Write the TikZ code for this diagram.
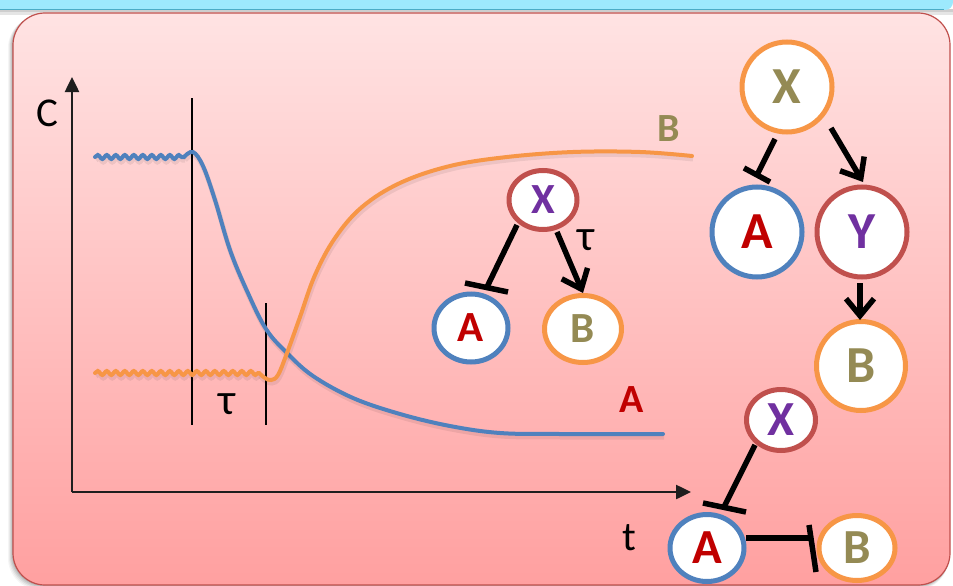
\documentclass[tikz,border=0pt]{standalone}
\usepackage{fontspec}
\setmainfont{Carlito}
\usetikzlibrary{arrows.meta,shapes.geometric,decorations.pathmorphing,calc}
\definecolor{cBlue}{HTML}{4F81BD}
\definecolor{cOrange}{HTML}{F79646}
\definecolor{cRed}{HTML}{C0504D}
\definecolor{cPurple}{HTML}{7030A0}
\definecolor{cDarkRed}{HTML}{C00000}
\definecolor{cOlive}{HTML}{948A54}
\definecolor{cCyan}{HTML}{9DE9FD}
\definecolor{cCyanDark}{HTML}{4BACC6}
\definecolor{boxTop}{HTML}{FFE3E3}
\definecolor{boxBot}{HTML}{FFA0A0}
\definecolor{axisCol}{HTML}{1E1E1E}
\begin{document}
\begin{tikzpicture}[x=1pt,y=-1pt,
  gnode/.style={ellipse, draw, line width=5pt, fill=white, inner sep=0pt},
  fmid/.style={font=\fontsize{43}{45}\selectfont\bfseries},
  fright/.style={font=\fontsize{52}{54}\selectfont\bfseries},
  fbot/.style={font=\fontsize{49}{51}\selectfont\bfseries},
  edge/.style={line width=5.5pt, black},
  act/.style={edge, -{Straight Barb[length=17pt,width=28pt,line width=5.5pt]}},
  curveshadow/.style={preaction={draw=black, opacity=0.07, line width=5pt, transform canvas={xshift=1pt,yshift=-3pt}}},
  blueline/.style={cBlue, line width=4pt, line cap=round, curveshadow},
  orangeline/.style={cOrange, line width=4pt, line cap=round, curveshadow},
  wavy/.style={decorate, decoration={snake, segment length=9pt, amplitude=2pt}},
  marker/.style={line width=2pt, black},
  axisline/.style={line width=2.5pt, axisCol, -{Triangle[length=15pt,width=14pt]}},
  lbl/.style={font=\fontsize{41}{44}\selectfont, inner sep=0pt},
  curvelbl/.style={font=\fontsize{40}{42}\selectfont\bfseries, inner sep=0pt}
]
\useasboundingbox (0,0) rectangle (953,586);
% top cyan bar
\fill[black, opacity=0.10] (0,9) rectangle (953,15);
\fill[black, opacity=0.10] (0,9) rectangle (953,12);
\fill[cCyan, rounded corners=8pt] (-10,-10) rectangle (953,10);
\draw[cCyanDark, line width=1.5pt] (0,9.5) -- (944,9.5);
% box shadow
\foreach \o/\a in {1/0.10,2/0.08,3/0.07,4/0.05,5/0.04}{
  \fill[black, opacity=\a, rounded corners=32pt] (13-\o,13+\o*0.6) rectangle (950-\o*0.3,585+\o);
}
% main box
\shadedraw[top color=boxTop, bottom color=boxBot, draw=cRed, line width=1.2pt, rounded corners=32pt] (13,13) rectangle (950,585);

% axes
\coordinate (O) at (72,492);
\coordinate (Ytop) at (72,77);
\coordinate (Xend) at (691,492);
\draw[axisline] (O) -- (Ytop);
\draw[axisline] (O) -- (Xend);
\node[lbl] (Clbl) at (47,113) {C};
\node[lbl] (tlbl) at (629,538) {t};

% markers
\coordinate (m1t) at (192,98);
\coordinate (m1b) at (192,425);
\coordinate (m2t) at (266,303);
\coordinate (m2b) at (266,425);
\draw[marker] (m1t) -- (m1b);
\draw[marker] (m2t) -- (m2b);
\node[lbl, font=\fontsize{44}{46}\selectfont] (tau1) at (227,404) {τ};

% curves
\draw[blueline, wavy] (95,157) -- (184,157);
\draw[blueline] plot[smooth, tension=0.6] coordinates {(184,157) (193,152) (203,166) (215,200) (230,250) (247,291) (266,329) (287,353) (313,376) (353,398) (400,414) (450,426) (500,433) (560,434) (663,434)};
\draw[orangeline, wavy] (95,373) -- (259,373);
\draw[orangeline] plot[smooth, tension=0.6] coordinates {(259,373) (265,378) (271,380) (278,375) (287,353) (300,317) (315,275) (335,238) (362,207) (400,183) (450,166) (507,157) (573,152) (640,152) (692,156)};
\node[curvelbl, text=cOlive] (Blbl) at (669,129) {B};
\node[curvelbl, text=cDarkRed] (Albl) at (632,400) {A};

% middle network
\node[gnode, draw=cRed, minimum width=68pt, minimum height=59pt, fmid, text=cPurple] (mX) at (543,200) {X};
\node[gnode, draw=cBlue, minimum width=74pt, minimum height=68pt, fmid, text=cDarkRed] (mA) at (471,328) {A};
\node[gnode, draw=cOrange, minimum width=77pt, minimum height=67pt, fmid, text=cOlive] (mB) at (583,329) {B};
\draw[edge] ($(mX)+(-26,25)$) -- ($(mA)+(16,-41)$);
\draw[edge] ($(mA)+(-6,-45)$) -- ($(mA)+(37,-36)$);
\draw[act] ($(mX)+(14,32)$) -- ($(mB)+(0,-36)$);
\node[lbl, font=\fontsize{44}{46}\selectfont] (tau2) at (586,240) {τ};

% right network
\node[gnode, draw=cOrange, minimum width=90pt, minimum height=90pt, fright, text=cOlive] (rX) at (787,87) {X};
\node[gnode, draw=cBlue, minimum width=90pt, minimum height=90pt, fright, text=cDarkRed] (rA) at (757,232) {A};
\node[gnode, draw=cRed, minimum width=90pt, minimum height=90pt, fright, text=cPurple] (rY) at (862,232) {Y};
\node[gnode, draw=cOrange, minimum width=89pt, minimum height=89pt, fright, text=cOlive] (rB) at (861,366) {B};
\draw[edge] ($(rX)+(-12,52)$) -- ($(rA)+(0,-57)$);
\draw[edge] ($(rA)+(-13,-64)$) -- ($(rA)+(13,-50)$);
\draw[act] ($(rX)+(44,41)$) -- ($(rY)+(1,-50)$);
\draw[act] ($(rY)+(-2,51)$) -- ($(rB)+(-1,-46)$);

% bottom network
\node[gnode, draw=cRed, minimum width=69pt, minimum height=61pt, fbot, text=cPurple] (bX) at (781,420) {X};
\node[gnode, draw=cBlue, minimum width=74pt, minimum height=67pt, fbot, text=cDarkRed] (bA) at (707,548) {A};
\node[gnode, draw=cOrange, minimum width=76pt, minimum height=65pt, fbot, text=cOlive] (bB) at (857,548) {B};
\draw[edge] ($(bX)+(-26,25)$) -- ($(bA)+(17,-41)$);
\draw[edge] ($(bA)+(-4,-45)$) -- ($(bA)+(39,-36)$);
\draw[edge] ($(bA)+(39,-10)$) -- ($(bB)+(-44,-10)$);
\draw[edge] ($(bB)+(-48,-23)$) -- ($(bB)+(-41,24)$);
\end{tikzpicture}
\end{document}
